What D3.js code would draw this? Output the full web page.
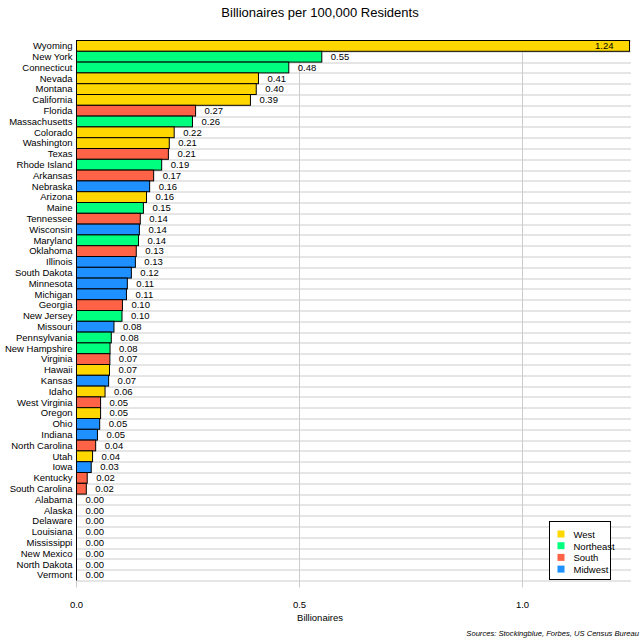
<!DOCTYPE html>
<html>
<head>
<meta charset="utf-8">
<script src="https://cdn.jsdelivr.net/npm/d3@7/dist/d3.min.js"></script>
<style>
  body { margin: 0; background: #fff; }
  text { font-family: "Liberation Sans", Arial, sans-serif; }
</style>
</head>
<body>
<div id="chart"></div>
<script>
const states = ["Wyoming", "New York", "Connecticut", "Nevada", "Montana", "California", "Florida",
  "Massachusetts", "Colorado", "Washington", "Texas", "Rhode Island", "Arkansas", "Nebraska",
  "Arizona", "Maine", "Tennessee", "Wisconsin", "Maryland", "Oklahoma", "Illinois", "South Dakota",
  "Minnesota", "Michigan", "Georgia", "New Jersey", "Missouri", "Pennsylvania", "New Hampshire",
  "Virginia", "Hawaii", "Kansas", "Idaho", "West Virginia", "Oregon", "Ohio", "Indiana",
  "North Carolina", "Utah", "Iowa", "Kentucky", "South Carolina", "Alabama", "Alaska", "Delaware",
  "Louisiana", "Mississippi", "New Mexico", "North Dakota", "Vermont"];

const values = [1.24, 0.55, 0.476, 0.408, 0.403, 0.39, 0.267,
  0.26, 0.219, 0.208, 0.206, 0.191, 0.173, 0.164,
  0.157, 0.15, 0.143, 0.141, 0.139, 0.134, 0.132, 0.123,
  0.114, 0.112, 0.103, 0.102, 0.084, 0.078, 0.0752,
  0.0748, 0.074, 0.072, 0.064, 0.054, 0.054, 0.052, 0.047,
  0.043, 0.036, 0.033, 0.024, 0.022, 0, 0, 0,
  0, 0, 0, 0, 0];

const regions = ["West", "Northeast", "Northeast", "West", "West", "West", "South",
  "Northeast", "West", "West", "South", "Northeast", "South", "Midwest",
  "West", "Northeast", "South", "Midwest", "Northeast", "South", "Midwest", "Midwest",
  "Midwest", "Midwest", "South", "Northeast", "Midwest", "Northeast", "Northeast",
  "South", "West", "Midwest", "West", "South", "West", "Midwest", "Midwest",
  "South", "West", "Midwest", "South", "South", "South", "West", "South",
  "South", "South", "West", "Midwest", "Northeast"];

const regionNames = ["West", "Northeast", "South", "Midwest"];
const regionColors = ["#FFD700", "#00FF7F", "#FF6347", "#1E90FF"];
const xTicks = [0, 0.5, 1.0];

const width = 640, height = 640;
const margin = { top: 40.5, right: 9, bottom: 59.5, left: 76.5 };
const innerW = width - margin.left - margin.right;
const innerH = height - margin.top - margin.bottom;

const rows = states.map((s, i) => ({ state: s, value: values[i], region: regions[i] }));

const x = d3.scaleLinear().domain([0, innerW / 446]).range([0, innerW]);
const y = d3.scaleBand().domain(states).range([0, innerH]).padding(0);
const color = d3.scaleOrdinal().domain(regionNames).range(regionColors);

const svg = d3.select("#chart").append("svg")
  .attr("width", width)
  .attr("height", height);

svg.append("text")
  .attr("x", width / 2)
  .attr("y", 17)
  .attr("text-anchor", "middle")
  .attr("font-size", 13)
  .text("Billionaires per 100,000 Residents");

const g = svg.append("g").attr("transform", `translate(${margin.left},${margin.top})`);

// horizontal grid at row boundaries
g.append("g").selectAll("line")
  .data(states.concat([null]))
  .join("line")
  .attr("x1", 0)
  .attr("x2", innerW)
  .attr("y1", (d, i) => Math.round(i * y.step()) + 0.5)
  .attr("y2", (d, i) => Math.round(i * y.step()) + 0.5)
  .attr("stroke", "#ccc")
  .attr("stroke-width", 1);

// vertical grid
g.append("g").selectAll("line")
  .data(xTicks)
  .join("line")
  .attr("x1", d => Math.round(x(d)))
  .attr("x2", d => Math.round(x(d)))
  .attr("y1", 0)
  .attr("y2", innerH + 7)
  .attr("stroke", "#ccc")
  .attr("stroke-width", 1);

// bars
g.append("g").selectAll("rect")
  .data(rows.filter(d => d.value > 0))
  .join("rect")
  .attr("x", 0)
  .attr("y", d => y(d.state))
  .attr("width", d => x(d.value))
  .attr("height", y.bandwidth())
  .attr("fill", d => color(d.region))
  .attr("stroke", "#000")
  .attr("stroke-width", 1);

// zero axis line
g.append("line")
  .attr("x1", 0).attr("x2", 0)
  .attr("y1", 0).attr("y2", innerH)
  .attr("stroke", "#000");

// value labels
const fmt = d3.format(".2f");
g.append("g").selectAll("text")
  .data(rows)
  .join("text")
  .attr("x", d => d.value > 1 ? x(d.value) - 16 : x(d.value) + 9)
  .attr("y", d => y(d.state) + y.bandwidth() / 2)
  .attr("dy", "0.35em")
  .attr("text-anchor", d => d.value > 1 ? "end" : "start")
  .attr("font-size", 9.5)
  .text(d => fmt(d.value));

// state labels
g.append("g").selectAll("text")
  .data(rows)
  .join("text")
  .attr("x", -4)
  .attr("y", d => y(d.state) + y.bandwidth() / 2)
  .attr("dy", "0.35em")
  .attr("text-anchor", "end")
  .attr("font-size", 9.5)
  .text(d => d.state);

// x tick labels
g.append("g").selectAll("text")
  .data(xTicks)
  .join("text")
  .attr("x", d => x(d))
  .attr("y", innerH + 27)
  .attr("text-anchor", "middle")
  .attr("font-size", 9.5)
  .text(d3.format(".1f"));

svg.append("text")
  .attr("x", margin.left + x(0.546))
  .attr("y", 621)
  .attr("text-anchor", "middle")
  .attr("font-size", 9.5)
  .text("Billionaires");

svg.append("text")
  .attr("x", 639)
  .attr("y", 636)
  .attr("text-anchor", "end")
  .attr("font-size", 7.6)
  .attr("font-style", "italic")
  .text("Sources: Stockingblue, Forbes, US Census Bureau");

// legend
const legend = svg.append("g").attr("transform", "translate(549.5,521.5)");
legend.append("rect")
  .attr("width", 61)
  .attr("height", 58)
  .attr("fill", "#fff")
  .attr("stroke", "#000");
const items = legend.selectAll("g.item")
  .data(regionNames)
  .join("g")
  .attr("class", "item")
  .attr("transform", (d, i) => `translate(8,${9 + i * 11.7})`);
items.append("rect")
  .attr("width", 7)
  .attr("height", 7)
  .attr("fill", d => color(d));
items.append("text")
  .attr("x", 16)
  .attr("y", 4)
  .attr("dy", "0.35em")
  .attr("font-size", 9.5)
  .text(d => d);
</script>
</body>
</html>
